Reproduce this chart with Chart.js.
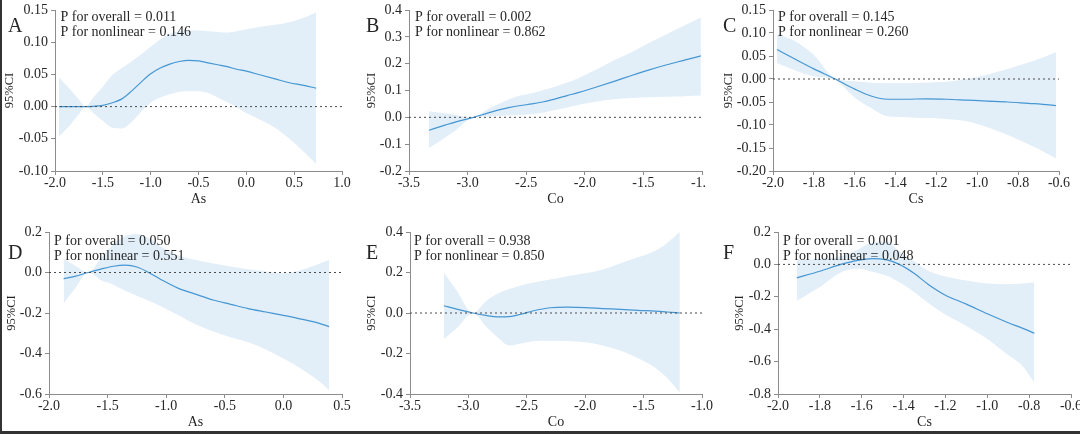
<!DOCTYPE html>
<html><head><meta charset="utf-8">
<script src="https://cdn.jsdelivr.net/npm/chart.js@4.4.1/dist/chart.umd.min.js"></script>
<style>
html,body{margin:0;padding:0;background:#fff;}
body{width:1080px;height:434px;overflow:hidden;position:relative;}
.clip{position:absolute;overflow:hidden;}
.clip canvas{position:absolute;left:0;top:0;}
.frameL{position:absolute;left:0;top:0;width:2px;height:434px;background:#333;}
.frameB{position:absolute;left:0;top:431px;width:1080px;height:3px;background:#333;}
</style></head><body>
<div id="root"></div>
<div class="frameL"></div><div class="frameB"></div>
<script>
// ---------- DATA ----------
const panelLetters = ['A','B','C','D','E','F'];
const xTitles = ['As','Co','Cs','As','Co','Cs'];
const yTitle = '95%CI';
const pOverall = ['0.011','0.002','0.145','0.050','0.938','0.001'];
const pNonlinear = ['0.146','0.862','0.260','0.551','0.850','0.048'];

// Panel A
const A_x = [-1.96,-1.85,-1.75,-1.68,-1.6,-1.5,-1.4,-1.3,-1.2,-1.1,-1.0,-0.9,-0.8,-0.7,-0.6,-0.5,-0.4,-0.3,-0.2,-0.1,0.0,0.15,0.3,0.45,0.6,0.73];
const A_fit = [0,0,0,0,0.0005,0.002,0.006,0.012,0.024,0.038,0.051,0.060,0.066,0.070,0.0717,0.071,0.068,0.065,0.062,0.058,0.055,0.049,0.043,0.037,0.033,0.0285];
const A_upper = [0.045,0.028,0.011,0.0,0.014,0.031,0.049,0.060,0.070,0.081,0.093,0.104,0.113,0.117,0.118,0.118,0.117,0.116,0.115,0.117,0.120,0.124,0.127,0.131,0.138,0.146];
const A_lower = [-0.047,-0.03,-0.012,0.0,-0.010,-0.022,-0.033,-0.034,-0.024,-0.008,0.006,0.014,0.019,0.023,0.024,0.024,0.021,0.014,0.007,-0.001,-0.010,-0.021,-0.033,-0.050,-0.070,-0.089];
const A_xticks = [-2.0,-1.5,-1.0,-0.5,0.0,0.5,1.0];
const A_yticks = [-0.10,-0.05,0.00,0.05,0.10,0.15];

// Panel B
const B_x = [-3.33,-3.2,-3.1,-2.95,-2.85,-2.75,-2.65,-2.55,-2.45,-2.35,-2.25,-2.15,-2.05,-1.9,-1.75,-1.6,-1.45,-1.3,-1.15,-1.01];
const B_fit = [-0.048,-0.030,-0.017,0.0,0.013,0.026,0.036,0.044,0.050,0.058,0.069,0.081,0.093,0.113,0.134,0.156,0.177,0.196,0.213,0.229];
const B_upper = [0.023,0.015,0.009,0.0,0.025,0.047,0.066,0.081,0.090,0.102,0.115,0.130,0.147,0.178,0.213,0.243,0.278,0.310,0.342,0.372];
const B_lower = [-0.114,-0.078,-0.048,0.0,0.003,0.005,0.007,0.009,0.012,0.018,0.027,0.037,0.047,0.059,0.067,0.072,0.075,0.077,0.079,0.081];
const B_xticks = [-3.5,-3.0,-2.5,-2.0,-1.5,-1.0];
const B_yticks = [-0.2,-0.1,0.0,0.1,0.2,0.3,0.4];

// Panel C
const C_x = [-1.98,-1.9,-1.8,-1.7,-1.6,-1.52,-1.44,-1.35,-1.25,-1.15,-1.05,-0.95,-0.85,-0.75,-0.68,-0.615];
const C_fit = [0.064,0.045,0.022,0.001,-0.022,-0.037,-0.044,-0.044,-0.043,-0.044,-0.046,-0.048,-0.050,-0.053,-0.055,-0.058];
const C_upper = [0.098,0.084,0.052,0.002,-0.005,-0.008,-0.009,-0.009,-0.008,-0.006,0.000,0.010,0.022,0.036,0.046,0.058];
const C_lower = [0.035,0.020,0.006,-0.001,-0.040,-0.063,-0.081,-0.083,-0.085,-0.087,-0.092,-0.105,-0.122,-0.142,-0.157,-0.173];
const C_xticks = [-2.0,-1.8,-1.6,-1.4,-1.2,-1.0,-0.8,-0.6];
const C_yticks = [-0.20,-0.15,-0.10,-0.05,0.00,0.05,0.10,0.15];

// Panel D
const D_x = [-1.875,-1.78,-1.665,-1.55,-1.45,-1.35,-1.25,-1.15,-1.05,-0.9,-0.75,-0.6,-0.45,-0.3,-0.15,0.0,0.15,0.3,0.39];
const D_fit = [-0.030,-0.019,0.0,0.018,0.031,0.036,0.027,0.0,-0.033,-0.077,-0.107,-0.136,-0.157,-0.178,-0.195,-0.212,-0.230,-0.250,-0.267];
const D_upper = [0.065,0.035,0.0,0.075,0.14,0.18,0.19,0.17,0.13,0.085,0.062,0.045,0.030,0.016,0.005,-0.004,0.012,0.042,0.062];
const D_lower = [-0.152,-0.08,0.0,-0.040,-0.06,-0.09,-0.115,-0.14,-0.165,-0.21,-0.255,-0.29,-0.32,-0.345,-0.38,-0.425,-0.475,-0.535,-0.58];
const D_xticks = [-2.0,-1.5,-1.0,-0.5,0.0,0.5];
const D_yticks = [-0.6,-0.4,-0.2,0.0,0.2];

// Panel E
const E_x = [-3.21,-3.1,-2.96,-2.85,-2.75,-2.65,-2.55,-2.45,-2.3,-2.15,-2.0,-1.85,-1.7,-1.55,-1.4,-1.3,-1.19];
const E_fit = [0.036,0.019,0.0,-0.012,-0.019,-0.018,-0.006,0.010,0.026,0.029,0.027,0.022,0.018,0.013,0.009,0.005,0.0];
const E_upper = [0.200,0.110,0.0,0.058,0.095,0.118,0.136,0.150,0.165,0.182,0.196,0.215,0.245,0.275,0.308,0.345,0.40];
const E_lower = [-0.128,-0.075,0.0,-0.065,-0.120,-0.160,-0.150,-0.140,-0.137,-0.138,-0.145,-0.160,-0.185,-0.222,-0.270,-0.320,-0.393];
const E_xticks = [-3.5,-3.0,-2.5,-2.0,-1.5,-1.0];
const E_yticks = [-0.4,-0.2,0.0,0.2,0.4];

// Panel F
const F_x = [-1.91,-1.8,-1.7,-1.62,-1.55,-1.48,-1.42,-1.35,-1.28,-1.2,-1.1,-1.0,-0.9,-0.83,-0.775];
const F_fit = [-0.083,-0.042,0.0,0.025,0.036,0.028,0.0,-0.055,-0.125,-0.190,-0.245,-0.305,-0.360,-0.395,-0.425];
const F_upper = [0.025,0.035,0.05,0.09,0.135,0.14,0.08,0.02,-0.04,-0.075,-0.10,-0.118,-0.122,-0.118,-0.11];
const F_lower = [-0.225,-0.14,-0.05,-0.025,-0.045,-0.07,-0.11,-0.17,-0.24,-0.31,-0.38,-0.46,-0.56,-0.63,-0.73];
const F_xticks = [-2.0,-1.8,-1.6,-1.4,-1.2,-1.0,-0.8,-0.6];
const F_yticks = [-0.8,-0.6,-0.4,-0.2,0.0,0.2];

// ---------- LAYOUT ----------
const FONT = '"Liberation Serif", "Times New Roman", serif';
const TXT = '#262626', AXIS = '#8c8c8c', LINE = '#4597d3', BAND = '#e2eef8';
const H = 217;
const panels = [
  {x:A_x, fit:A_fit, lo:A_lower, hi:A_upper, xt:A_xticks, yt:A_yticks, yd:2,
   left:0, top:0, w:360, clip:360, pl:55, pr:342, pt:7, pb:171, ytc:10, letter:[8,32], text:[60.5,20.5]},
  {x:B_x, fit:B_fit, lo:B_lower, hi:B_upper, xt:B_xticks, yt:B_yticks, yd:1,
   left:360, top:0, w:372, clip:345, pl:49, pr:342, pt:7, pb:171, ytc:12, letter:[6,32], text:[55,20.5]},
  {x:C_x, fit:C_fit, lo:C_lower, hi:C_upper, xt:C_xticks, yt:C_yticks, yd:2,
   left:720, top:0, w:360, clip:360, pl:53, pr:339, pt:7, pb:171, ytc:8.5, letter:[3,32], text:[58,20.5]},
  {x:D_x, fit:D_fit, lo:D_lower, hi:D_upper, xt:D_xticks, yt:D_yticks, yd:1,
   left:0, top:217, w:360, clip:360, pl:49, pr:342, pt:15, pb:177, ytc:12, letter:[8,41.7], text:[54,28.3]},
  {x:E_x, fit:E_fit, lo:E_lower, hi:E_upper, xt:E_xticks, yt:E_yticks, yd:1,
   left:360, top:217, w:372, clip:360, pl:50, pr:342, pt:15, pb:177, ytc:12, letter:[6,41.7], text:[54,28.3]},
  {x:F_x, fit:F_fit, lo:F_lower, hi:F_upper, xt:F_xticks, yt:F_yticks, yd:1,
   left:720, top:217, w:380, clip:380, pl:58, pr:351, pt:15, pb:177, ytc:20, letter:[3,41.7], text:[63,28.3]}
];

function fmt(v, d){ if (Math.abs(v) < 1e-9) v = 0; return Number(v).toFixed(d); }
function pts(xs, ys){ return xs.map((x,i)=>({x:x, y:ys[i]})); }

const root = document.getElementById('root');
panels.forEach((p, i) => {
  const div = document.createElement('div');
  div.className = 'clip';
  div.style.left = p.left + 'px'; div.style.top = p.top + 'px';
  div.style.width = p.clip + 'px'; div.style.height = H + 'px';
  const cv = document.createElement('canvas');
  cv.width = p.w; cv.height = H;
  cv.style.width = p.w + 'px'; cv.style.height = H + 'px';
  div.appendChild(cv); root.appendChild(div);

  const xmin = p.xt[0], xmax = p.xt[p.xt.length-1];
  const ymin = p.yt[0], ymax = p.yt[p.yt.length-1];
  const annot = {
    id: 'annot' + i,
    afterDraw(chart){
      const ctx = chart.ctx;
      ctx.save();
      ctx.fillStyle = TXT;
      ctx.textBaseline = 'alphabetic';
      ctx.textAlign = 'left';
      ctx.font = '20px ' + FONT;
      ctx.fillText(panelLetters[i], p.letter[0], p.letter[1]);
      ctx.font = '14px ' + FONT;
      ctx.fillText('P for overall = ' + pOverall[i], p.text[0], p.text[1]);
      ctx.fillText('P for nonlinear = ' + pNonlinear[i], p.text[0], p.text[1] + 15);
      ctx.restore();
    }
  };

  new Chart(cv, {
    type: 'line',
    data: { datasets: [
      { label:'zero', data:[{x:xmin,y:0},{x:xmax,y:0}], borderColor:'#4a4a4a', borderWidth:1, borderDash:[2,3], fill:false, pointRadius:0, order:0 },
      { label:'fit', data:pts(p.x, p.fit), borderColor:LINE, borderWidth:1.2, fill:false, pointRadius:0, cubicInterpolationMode:'monotone', order:1 },
      { label:'upper', data:pts(p.x, p.hi), borderColor:'rgba(0,0,0,0)', borderWidth:0, backgroundColor:BAND, fill:'+1', pointRadius:0, cubicInterpolationMode:'monotone', order:2 },
      { label:'lower', data:pts(p.x, p.lo), borderColor:'rgba(0,0,0,0)', borderWidth:0, fill:false, pointRadius:0, cubicInterpolationMode:'monotone', order:3 }
    ]},
    options: {
      responsive:false, maintainAspectRatio:false, animation:false,
      layout:{ padding:{ left:0, top:p.pt, right:p.w - p.pr, bottom:0 } },
      plugins:{ legend:{display:false}, tooltip:{enabled:false} },
      scales:{
        x:{
          type:'linear', min:xmin, max:xmax,
          afterFit: s => { s.height = H - p.pb; },
          afterBuildTicks: s => { s.ticks = p.xt.map(v => ({value:v})); },
          ticks:{ autoSkip:false, maxRotation:0, padding:1, color:TXT, font:{family:FONT, size:14, lineHeight:1}, callback: v => fmt(v,1) },
          grid:{ display:true, drawOnChartArea:false, drawTicks:true, tickLength:4, color:AXIS },
          border:{ display:true, color:AXIS, width:1 },
          title:{ display:true, text:xTitles[i], color:TXT, font:{family:FONT, size:14}, padding:{top:0, bottom: H - 8.4 - p.pb - 28} }
        },
        y:{
          type:'linear', min:ymin, max:ymax,
          afterFit: s => { s.width = p.pl; },
          afterBuildTicks: s => { s.ticks = p.yt.map(v => ({value:v})); },
          ticks:{ autoSkip:false, padding:3, color:TXT, font:{family:FONT, size:14, lineHeight:1}, callback: v => fmt(v,p.yd) },
          grid:{ display:true, drawOnChartArea:false, drawTicks:true, tickLength:4, color:AXIS },
          border:{ display:true, color:AXIS, width:1 },
          title:{ display:true, text:yTitle, color:TXT, font:{family:FONT, size:12.5}, padding:{top:Math.max(0, p.ytc - 7.5), bottom:0} }
        }
      }
    },
    plugins:[annot]
  });
});
</script>
</body></html>
